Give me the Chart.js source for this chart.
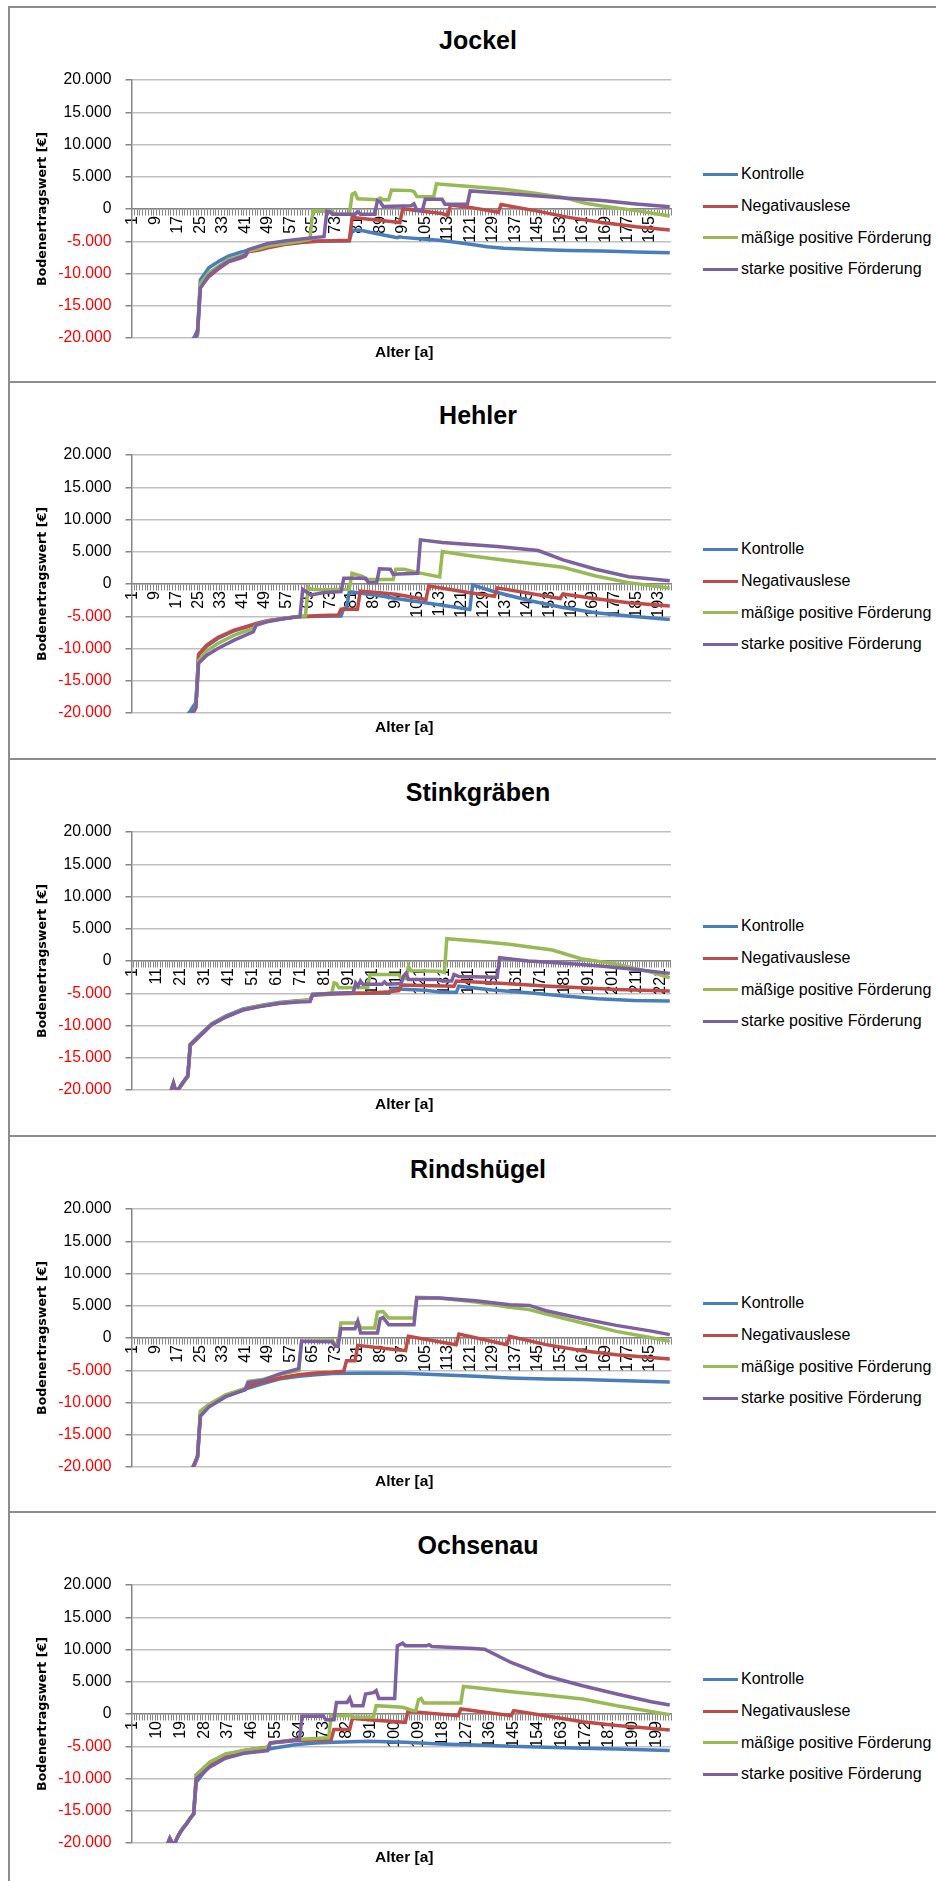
<!DOCTYPE html>
<html lang="de">
<head>
<meta charset="UTF-8">
<title>Bodenertragswert nach Alter</title>
<script src="https://cdn.jsdelivr.net/npm/chart.js@4.4.1/dist/chart.umd.min.js"></script>
<style>
    body {
        margin: 0;
        background: #fff;
        font-family: "Liberation Sans", Arial, sans-serif;
        overflow: hidden;
    }

    #seite {
        position: relative;
        width: 936px;
        height: 1881px;
        overflow: hidden;
    }

    .linie {
        position: absolute;
        background: #8c8c8c;
    }

    .panel {
        position: absolute;
        left: 0;
        width: 960px;
        height: 372px;
    }

    .panel canvas {
        position: absolute;
        left: 10px;
        top: 0;
    }

    .titel {
        position: absolute;
        left: 0;
        width: 956px;
        top: 16px;
        text-align: center;
        font-weight: bold;
        font-size: 25px;
        line-height: 32px;
    }

    .xtitel {
        position: absolute;
        left: 131.5px;
        width: 545.5px;
        top: 334px;
        text-align: center;
        font-weight: bold;
        font-size: 15.5px;
        line-height: 20px;
    }

    .eintrag {
        position: absolute;
        left: 703px;
        white-space: nowrap;
        font-size: 16px;
        line-height: 20px;
    }

    .eintrag .strich {
        position: absolute;
        left: 0;
        top: 8.5px;
        width: 35px;
        height: 3px;
    }

    .eintrag .text {
        position: absolute;
        left: 38px;
        top: 0;
    }
</style>
</head>
<body>
<div id="seite"></div>

<script>
    const reihenNamen = ['Kontrolle', 'Negativauslese', 'mäßige positive Förderung', 'starke positive Förderung'];
    const farben = ['#4a7ebb', '#be4b48', '#98b954', '#7d60a0'];

    // Werte als [Alter, Bodenertragswert]; dazwischen liegende Jahre werden gerade verbunden
    const jockelJahre = 192;
    const jockelKontrolle = [[22,-20400],[23,-19700],[24,-18800],[25,-11000],[28,-9100],[32,-8000],[35,-7300],[39,-6750],[41,-6500],[42,-6450],[46,-6000],[49,-5650],[55,-5230],[61,-4950],[70,-4950],[78,-4950],[79,-3300],[82,-3300],[87,-3750],[95,-4450],[96,-4300],[97,-4400],[105,-4700],[110,-4850],[115,-5100],[121,-5450],[127,-5850],[133,-6100],[144,-6270],[156,-6450],[168,-6530],[180,-6650],[192,-6800]];
    const jockelNegativ = [[23,-20500],[24,-19500],[25,-12100],[28,-10500],[32,-9100],[35,-8200],[39,-7650],[41,-7300],[42,-6650],[46,-6350],[49,-6000],[55,-5500],[61,-5200],[67,-5000],[78,-4850],[79,-1300],[85,-1600],[92,-1900],[96,-2100],[97,50],[104,-350],[111,-700],[113,-1000],[114,600],[121,250],[131,-500],[132,700],[144,-250],[156,-1300],[168,-2100],[180,-2750],[192,-3250]];
    const jockelMaessig = [[23,-20500],[24,-19300],[25,-11600],[28,-9900],[32,-8700],[35,-7800],[39,-7300],[41,-7000],[42,-6500],[46,-6150],[49,-5750],[55,-5350],[61,-4950],[64,-4700],[65,-300],[72,-350],[73,-800],[78,-800],[79,2300],[80,2500],[81,1600],[88,1450],[89,1700],[90,1450],[92,1450],[93,2950],[100,2850],[101,2700],[102,1950],[108,1900],[109,3900],[115,3700],[121,3500],[133,3050],[144,2450],[154,1800],[162,900],[168,450],[180,-250],[192,-1100]];
    const jockelStark = [[23,-20400],[24,-19000],[25,-12300],[28,-10300],[32,-8950],[35,-8100],[39,-7500],[41,-7150],[42,-6300],[46,-5750],[49,-5350],[55,-4950],[61,-4650],[66,-4400],[69,-4300],[70,-350],[71,-400],[72,-800],[80,-800],[81,-450],[82,-800],[87,-800],[88,1300],[89,1100],[90,400],[97,450],[100,500],[101,800],[102,-200],[104,-200],[105,1500],[111,1500],[112,750],[120,750],[121,2800],[133,2450],[144,2050],[156,1650],[168,1300],[180,780],[192,350]];

    const hehlerJahre = 197;
    const hehlerKontrolle = [[21,-20200],[22,-19700],[23,-19000],[24,-18400],[25,-11000],[28,-9640],[32,-8450],[38,-7250],[45,-6370],[46,-6300],[50,-5750],[56,-5350],[61,-5080],[70,-5000],[77,-4950],[78,-3800],[79,-3800],[80,-1200],[90,-1750],[97,-2250],[109,-3000],[117,-3500],[124,-3950],[125,-150],[133,-1200],[146,-2600],[158,-3630],[170,-4460],[182,-4970],[197,-5500]];
    const hehlerNegativ = [[22,-20400],[23,-19900],[24,-19000],[25,-10900],[28,-9480],[32,-8290],[38,-7150],[45,-6270],[46,-6100],[50,-5700],[56,-5340],[61,-5080],[70,-4900],[76,-4800],[77,-3900],[83,-3900],[84,-1100],[90,-1300],[97,-1600],[108,-2400],[109,-300],[124,-1350],[133,-1900],[134,-600],[157,-2250],[158,-1550],[170,-2300],[182,-2900],[197,-3400]];
    const hehlerMaessig = [[22,-20500],[23,-20000],[24,-19000],[25,-11900],[28,-10360],[32,-9220],[38,-7930],[45,-6890],[46,-6370],[50,-5750],[56,-5340],[61,-5080],[64,-4950],[65,-500],[66,-800],[70,-900],[80,-800],[81,1650],[85,1150],[86,700],[96,700],[97,2280],[100,2280],[105,1760],[113,1100],[114,5030],[122,4510],[134,3830],[146,3210],[158,2590],[170,1240],[182,210],[197,-670]];
    const hehlerStark = [[22,-20400],[23,-19900],[24,-19200],[25,-12300],[28,-11040],[32,-10000],[38,-8700],[45,-7410],[46,-6370],[50,-5850],[56,-5400],[62,-5050],[63,-830],[66,-1710],[71,-1300],[77,-1190],[78,880],[86,880],[87,200],[90,200],[91,2350],[95,2300],[96,1500],[105,1660],[106,6840],[114,6420],[134,5800],[149,5180],[158,3730],[170,2280],[182,1140],[197,520]];

    const stinkJahre = 225;
    const stinkKontrolle = [[17,-20100],[18,-19000],[19,-20200],[20,-19900],[22,-18800],[24,-17800],[25,-12900],[30,-11100],[34,-9700],[40,-8500],[47,-7450],[55,-6850],[62,-6450],[70,-6180],[75,-6050],[76,-5200],[85,-5000],[108,-5000],[109,-4300],[123,-4550],[129,-4800],[136,-4850],[137,-3900],[151,-4500],[166,-4920],[181,-5440],[195,-5850],[210,-6110],[225,-6210]];
    const stinkNegativ = [[17,-20200],[18,-19100],[19,-20300],[20,-20000],[22,-18900],[24,-17900],[25,-13100],[30,-11300],[34,-9850],[40,-8650],[47,-7550],[55,-6950],[62,-6550],[70,-6250],[75,-6100],[76,-5300],[85,-5100],[100,-4950],[108,-4750],[112,-4600],[113,-3730],[135,-3900],[136,-3100],[158,-3520],[173,-3880],[188,-4140],[203,-4400],[225,-4660]];
    const stinkMaessig = [[17,-20200],[18,-19000],[19,-20300],[20,-20000],[22,-18900],[24,-17900],[25,-13050],[30,-11200],[34,-9800],[40,-8600],[47,-7500],[55,-6900],[62,-6500],[70,-6200],[75,-6080],[76,-5200],[84,-5000],[85,-3400],[86,-3500],[87,-4150],[99,-4100],[100,-2100],[112,-2100],[113,-2700],[115,-2750],[116,-800],[117,-1500],[129,-1600],[131,-1800],[132,3450],[144,3100],[158,2600],[176,1700],[188,350],[203,-500],[218,-1800],[225,-2600]];
    const stinkStark = [[17,-20100],[18,-18900],[19,-20200],[20,-19900],[22,-18800],[24,-17800],[25,-13000],[30,-11250],[34,-9850],[40,-8650],[47,-7600],[55,-7000],[62,-6600],[70,-6350],[75,-6300],[76,-5200],[86,-5000],[93,-4900],[94,-3400],[95,-3900],[96,-3100],[97,-3600],[105,-3600],[106,-3250],[107,-3600],[113,-3500],[114,-2300],[115,-1900],[116,-2850],[128,-2850],[130,-3100],[134,-3100],[135,-2100],[137,-2400],[153,-2500],[154,500],[166,0],[181,-360],[196,-780],[210,-1290],[225,-1920]];

    const rindJahre = 192;
    const rindKontrolle = [[22,-20300],[23,-19500],[24,-18400],[25,-11700],[28,-10400],[34,-8900],[41,-7900],[47,-7120],[53,-6350],[60,-5930],[66,-5680],[72,-5520],[85,-5420],[97,-5450],[110,-5680],[123,-5930],[135,-6190],[148,-6350],[161,-6450],[173,-6600],[192,-6810]];
    const rindNegativ = [[22,-20400],[23,-19600],[24,-18500],[25,-11900],[28,-10600],[34,-9050],[41,-8000],[42,-7500],[47,-6810],[53,-6200],[60,-5680],[66,-5420],[72,-5300],[76,-5160],[77,-3510],[80,-3510],[81,-1140],[90,-1600],[98,-1960],[99,260],[116,-1030],[117,620],[134,-1030],[135,260],[148,-1030],[161,-1960],[173,-2580],[192,-3250]];
    const rindMaessig = [[22,-20300],[23,-19400],[24,-18300],[25,-11350],[28,-10300],[34,-8800],[41,-7800],[42,-6710],[47,-6450],[53,-5680],[60,-5060],[61,-520],[72,-400],[73,-1000],[74,-1000],[75,2320],[80,2320],[81,2550],[82,1550],[87,1550],[88,4020],[90,4100],[92,3100],[101,3100],[102,6300],[110,6200],[123,5570],[135,4750],[142,4400],[148,3720],[161,2320],[173,1030],[186,0],[192,-520]];
    const rindStark = [[22,-20300],[23,-19400],[24,-18300],[25,-12130],[28,-10700],[34,-9100],[41,-8000],[42,-6900],[47,-6600],[53,-5600],[60,-4750],[61,-520],[72,-600],[73,-1290],[74,-1290],[75,1440],[80,1440],[81,2580],[82,770],[88,770],[89,3000],[90,3200],[92,2060],[101,2060],[102,6190],[110,6190],[123,5780],[135,5160],[142,5050],[148,4230],[161,2990],[173,1960],[186,1030],[192,520]];

    const ochsJahre = 204;
    const ochsKontrolle = [[14,-20300],[15,-19300],[16,-20100],[17,-19900],[18,-19000],[19,-18300],[20,-17700],[21,-17200],[22,-16600],[23,-16000],[24,-15500],[25,-10570],[30,-7990],[36,-6700],[43,-6030],[50,-5670],[54,-5310],[63,-4740],[70,-4480],[77,-4380],[90,-4230],[104,-4380],[117,-4640],[130,-4790],[144,-5000],[157,-5150],[171,-5310],[184,-5410],[204,-5670]];
    const ochsNegativ = [[14,-20300],[15,-19300],[16,-20100],[17,-19900],[18,-19000],[19,-18300],[20,-17700],[21,-17200],[22,-16600],[23,-16000],[24,-15500],[25,-9430],[30,-7730],[36,-6440],[43,-5670],[52,-5150],[53,-4480],[63,-4120],[76,-3970],[77,-2420],[83,-2420],[84,-670],[90,-900],[104,-1290],[105,410],[124,-260],[125,770],[144,-260],[145,520],[157,-260],[171,-1190],[184,-1800],[204,-2470]];
    const ochsMaessig = [[14,-20300],[15,-19300],[16,-20100],[17,-19900],[18,-19000],[19,-18300],[20,-17700],[21,-17200],[22,-16600],[23,-16000],[24,-15500],[25,-9430],[30,-7470],[36,-6190],[43,-5670],[52,-5150],[53,-4480],[63,-3970],[75,-3700],[76,-260],[82,-260],[83,-100],[84,-520],[92,-520],[93,1290],[103,1030],[107,520],[108,520],[109,2220],[110,2400],[111,1700],[125,1700],[126,4280],[130,4120],[144,3450],[157,2940],[171,2320],[184,1290],[204,-100]];
    const ochsStark = [[14,-20300],[15,-19300],[16,-20100],[17,-19900],[18,-19000],[19,-18300],[20,-17700],[21,-17200],[22,-16600],[23,-16000],[24,-15500],[25,-10050],[30,-8250],[36,-6860],[43,-6080],[52,-5670],[53,-4480],[64,-3970],[65,-360],[73,-300],[74,-880],[77,-880],[78,1800],[82,1800],[83,2470],[84,1290],[88,1290],[89,3090],[92,3300],[93,3610],[94,2420],[100,2420],[101,10570],[103,10980],[104,10570],[112,10570],[113,10750],[114,10460],[130,10150],[134,10050],[144,7990],[157,5930],[171,4380],[184,3090],[197,1910],[204,1390]];

    const bestaende = [
        {name: 'Jockel', jahre: jockelJahre, schritt: 8, reihen: [jockelKontrolle, jockelNegativ, jockelMaessig, jockelStark]},
        {name: 'Hehler', jahre: hehlerJahre, schritt: 8, reihen: [hehlerKontrolle, hehlerNegativ, hehlerMaessig, hehlerStark]},
        {name: 'Stinkgräben', jahre: stinkJahre, schritt: 10, reihen: [stinkKontrolle, stinkNegativ, stinkMaessig, stinkStark]},
        {name: 'Rindshügel', jahre: rindJahre, schritt: 8, reihen: [rindKontrolle, rindNegativ, rindMaessig, rindStark]},
        {name: 'Ochsenau', jahre: ochsJahre, schritt: 9, reihen: [ochsKontrolle, ochsNegativ, ochsMaessig, ochsStark]}
    ];

    const panelOben = [8, 383, 760, 1137, 1513];
    const trennLinien = [6, 381, 758, 1135, 1511];

    const seite = document.getElementById('seite');

    // Rahmen links und Trennlinien zwischen den Diagrammen
    const links = document.createElement('div');
    links.className = 'linie';
    links.style.cssText = 'left:8px;top:6px;width:2px;height:1900px;';
    seite.appendChild(links);
    trennLinien.forEach(y => {
        const l = document.createElement('div');
        l.className = 'linie';
        l.style.cssText = `left:8px;top:${y}px;width:940px;height:2px;`;
        seite.appendChild(l);
    });

    function tausender(v) {
        const s = Math.abs(v).toString().replace(/\B(?=(\d{3})+(?!\d))/g, '.');
        return (v < 0 ? '-' : '') + s;
    }

    // Array mit einem Eintrag je Jahr, leere Jahre bleiben null
    function jahresReihe(punkte, n) {
        const werte = new Array(n).fill(null);
        punkte.forEach(([alter, wert]) => { werte[alter - 1] = wert; });
        return werte;
    }

    function zeichneBestand(bestand, oben) {
        const panel = document.createElement('div');
        panel.className = 'panel';
        panel.style.top = oben + 'px';

        const titel = document.createElement('div');
        titel.className = 'titel';
        titel.textContent = bestand.name;
        panel.appendChild(titel);

        const canvas = document.createElement('canvas');
        canvas.width = 680;
        canvas.height = 372;
        panel.appendChild(canvas);

        const xtitel = document.createElement('div');
        xtitel.className = 'xtitel';
        xtitel.textContent = 'Alter [a]';
        panel.appendChild(xtitel);

        reihenNamen.forEach((name, i) => {
            const e = document.createElement('div');
            e.className = 'eintrag';
            e.style.top = (156.3 + 31.7 * i) + 'px';
            e.innerHTML = `<span class="strich" style="background:${farben[i]}"></span><span class="text">${name}</span>`;
            panel.appendChild(e);
        });

        seite.appendChild(panel);

        const labels = Array.from({length: bestand.jahre}, (_, i) => String(i + 1));
        const schritt = bestand.schritt;

        new Chart(canvas, {
            type: 'line',
            data: {
                labels: labels,
                datasets: bestand.reihen.map((p, i) => ({
                    label: reihenNamen[i],
                    data: jahresReihe(p, bestand.jahre),
                    borderColor: farben[i],
                    backgroundColor: farben[i],
                    borderWidth: 3.5,
                    pointRadius: 0,
                    pointHoverRadius: 0,
                    tension: 0,
                    spanGaps: true,
                    clip: 0,
                    order: 3 - i  // spätere Reihe liegt oben
                }))
            },
            options: {
                responsive: false,
                animation: false,
                devicePixelRatio: 1,
                layout: {padding: {left: 20, top: 72, right: 13, bottom: 42}},
                plugins: {
                    legend: {display: false},
                    tooltip: {enabled: false}
                },
                scales: {
                    x: {
                        type: 'category',
                        position: {y: 0},
                        offset: true,
                        z: 1,
                        grid: {offset: true, drawOnChartArea: false, tickLength: 6, tickColor: '#868686', tickWidth: 1},
                        border: {color: '#868686', width: 1.5},
                        ticks: {
                            autoSkip: false,
                            minRotation: 90,
                            maxRotation: 90,
                            padding: 1,
                            color: '#000',
                            font: {family: '"Liberation Sans", Arial, sans-serif', size: 16},
                            callback: function (v, i) {
                                return i % schritt === 0 ? this.getLabelForValue(v) : '';
                            }
                        }
                    },
                    y: {
                        min: -20000,
                        max: 20000,
                        afterFit: s => { s.width = 101.5; },
                        grid: {color: '#c0c0c0', lineWidth: 1.5, tickLength: 6, tickColor: '#868686'},
                        border: {color: '#868686', width: 1.5},
                        ticks: {
                            stepSize: 5000,
                            padding: 14,
                            font: {family: '"Liberation Sans", Arial, sans-serif', size: 15.7},
                            color: c => c.tick.value < 0 ? '#ff0000' : '#000000',
                            callback: v => tausender(v)
                        },
                        title: {
                            display: true,
                            text: 'Bodenertragswert [€]',
                            color: '#000',
                            font: {family: '"DejaVu Sans", sans-serif', weight: 'bold', size: 12.6},
                            padding: {top: 5, bottom: 0}
                        }
                    }
                }
            }
        });
    }

    bestaende.forEach((b, k) => zeichneBestand(b, panelOben[k]));
</script>
</body>
</html>
